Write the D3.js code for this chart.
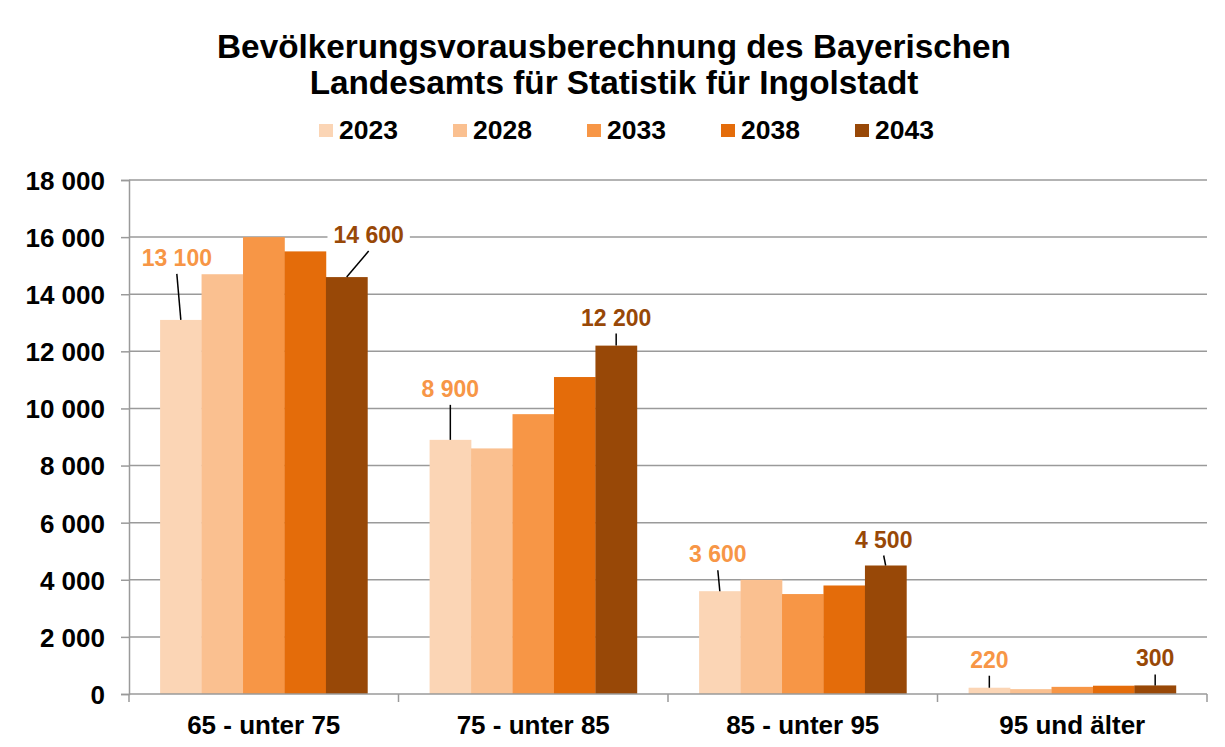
<!DOCTYPE html>
<html>
<head>
<meta charset="utf-8">
<script src="https://cdn.jsdelivr.net/npm/d3@7"></script>
<style>
  body { margin: 0; background: #fff; }
  svg { font-family: "Liberation Sans", Arial, sans-serif; font-weight: bold; }
</style>
</head>
<body>
<svg id="chart" width="1225" height="747"></svg>
<script>
const categories = ['65 - unter 75', '75 - unter 85', '85 - unter 95', '95 und älter']
const years = ['2023', '2028', '2033', '2038', '2043']
const values = {
  '2023': [13100, 8900, 3600, 220],
  '2028': [14700, 8600, 4000, 170],
  '2033': [16000, 9800, 3500, 250],
  '2038': [15500, 11100, 3800, 290],
  '2043': [14600, 12200, 4500, 300]
}
const yTicks = [0, 2000, 4000, 6000, 8000, 10000, 12000, 14000, 16000, 18000]
// labelled bars: [category index, year]
const labelled = [[0, '2023'], [0, '2043'], [1, '2023'], [1, '2043'],
                  [2, '2023'], [2, '2043'], [3, '2023'], [3, '2043']]

const colors = { '2023': '#FBD5B5', '2028': '#FAC090', '2033': '#F79646', '2038': '#E46C0A', '2043': '#984807' }
const labelColors = { '2023': '#F79646', '2043': '#984807' }
// label placement relative to bar top (dx, dy to baseline)
const labelOffsets = [[-4, -54], [22, -34], [0, -43], [0, -20],
                      [-2, -29], [-2, -18], [0, -20], [0, -19]]

const svg = d3.select('#chart')
const mLeft = 129, mRight = 1207, mTop = 180, mBottom = 694

const x0 = d3.scaleBand().domain(categories).range([mLeft, mRight]).paddingInner(0).paddingOuter(0)
const x1 = d3.scaleBand().domain(years).range([0, x0.bandwidth()]).paddingOuter(0.75).paddingInner(0)
const y = d3.scaleLinear().domain([0, 18000]).range([mBottom, mTop])
const fmt = v => d3.format(',')(v).replace(/,/g, ' ')

// title
svg.append('text')
  .attr('x', 614).attr('y', 58)
  .attr('text-anchor', 'middle').attr('font-size', 33.3)
  .text('Bevölkerungsvorausberechnung des Bayerischen')
svg.append('text')
  .attr('x', 614).attr('y', 94)
  .attr('text-anchor', 'middle').attr('font-size', 33.3)
  .text('Landesamts für Statistik für Ingolstadt')

// legend
const legend = svg.append('g').selectAll('g')
  .data(years).enter().append('g')
    .attr('transform', (d, i) => `translate(${319 + i * 134},0)`)
legend.append('rect')
  .attr('x', 0).attr('y', 124).attr('width', 14).attr('height', 13)
  .attr('fill', d => colors[d])
legend.append('text')
  .attr('x', 20).attr('y', 138.5).attr('font-size', 26.5)
  .text(d => d)

// gridlines
svg.append('g').selectAll('line')
  .data(yTicks.filter(t => t > 0)).enter().append('line')
    .attr('x1', mLeft).attr('x2', mRight)
    .attr('y1', d => y(d)).attr('y2', d => y(d))
    .attr('stroke', '#9a9a9a').attr('stroke-width', 1.5)

// y axis
const yAxis = svg.append('g')
  .attr('transform', `translate(${mLeft},0)`)
  .call(d3.axisLeft(y).tickValues(yTicks).tickFormat(fmt).tickSize(8).tickPadding(16))
yAxis.select('.domain').attr('stroke', '#9a9a9a').attr('stroke-width', 1.5)
yAxis.selectAll('.tick line').attr('stroke', '#9a9a9a').attr('stroke-width', 1.5)
yAxis.selectAll('.tick text')
  .attr('font-size', 26).attr('font-family', '"Liberation Sans", Arial, sans-serif')
  .attr('font-weight', 'bold').attr('fill', '#000').attr('dy', '0.36em')

// bars
const groups = svg.append('g').selectAll('g')
  .data(categories).enter().append('g')
    .attr('transform', d => `translate(${x0(d)},0)`)
groups.selectAll('rect')
  .data((d, i) => years.map(yr => ({ yr, v: values[yr][i] })))
  .enter().append('rect')
    .attr('x', d => x1(d.yr))
    .attr('width', x1.bandwidth() + 0.3)
    .attr('y', d => y(d.v))
    .attr('height', d => y(0) - y(d.v))
    .attr('fill', d => colors[d.yr])

// x axis
const xAxis = svg.append('g')
  .attr('transform', `translate(0,${mBottom})`)
xAxis.append('line')
  .attr('x1', mLeft).attr('x2', mRight)
  .attr('stroke', '#9a9a9a').attr('stroke-width', 1.5)
xAxis.selectAll('line.tk')
  .data(categories.concat(['end'])).enter().append('line')
    .attr('class', 'tk')
    .attr('x1', (d, i) => i < categories.length ? x0(d) : mRight)
    .attr('x2', (d, i) => i < categories.length ? x0(d) : mRight)
    .attr('y1', 0).attr('y2', 8)
    .attr('stroke', '#9a9a9a').attr('stroke-width', 1.5)
xAxis.selectAll('text')
  .data(categories).enter().append('text')
    .attr('x', d => x0(d) + x0.bandwidth() / 2)
    .attr('y', 40).attr('text-anchor', 'middle').attr('font-size', 26)
    .text(d => d)

// data labels with leader lines
const lab = svg.append('g')
labelled.forEach(([ci, yr], i) => {
  const v = values[yr][ci]
  const cx = x0(categories[ci]) + x1(yr) + x1.bandwidth() / 2
  const ty = y(v)
  const [dx, dy] = labelOffsets[i]
  const tx = cx + dx, by = ty + dy
  lab.append('line')
    .attr('x1', tx).attr('y1', by + 8)
    .attr('x2', cx).attr('y2', ty)
    .attr('stroke', '#000').attr('stroke-width', 1.5)
  const t = lab.append('text')
    .attr('x', tx).attr('y', by)
    .attr('text-anchor', 'middle').attr('font-size', 23)
    .attr('fill', labelColors[yr])
    .text(fmt(v))
  const bb = t.node().getBBox()
  lab.insert('rect', 'text')
    .attr('x', bb.x - 6).attr('y', bb.y - 2)
    .attr('width', bb.width + 12).attr('height', bb.height + 4)
    .attr('fill', '#fff')
})
</script>
</body>
</html>
